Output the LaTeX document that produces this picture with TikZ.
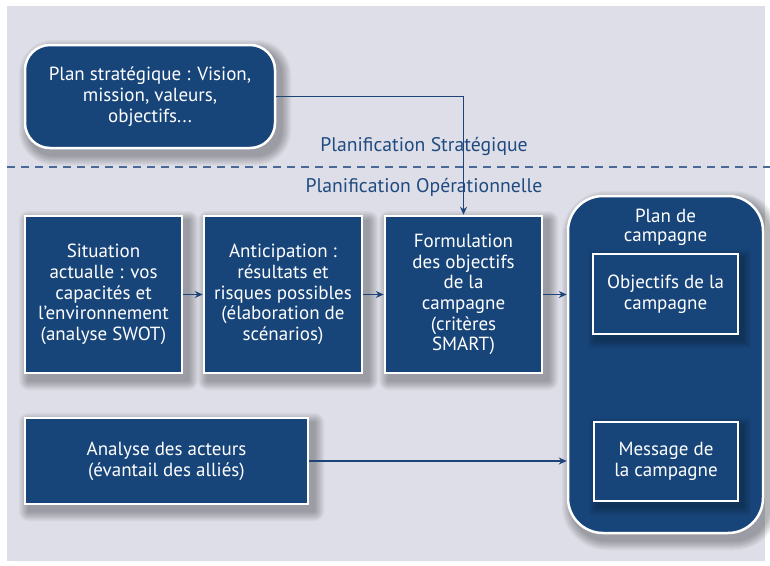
\documentclass[tikz,border=0pt]{standalone}
\usepackage{fontspec}
\setmainfont{PT Sans}
\usetikzlibrary{arrows.meta,calc}
\pgfdeclarelayer{back}
\pgfdeclarelayer{shade}
\pgfsetlayers{back,shade,main}
\definecolor{bgc}{RGB}{221,222,231}
\definecolor{boxblue}{RGB}{24,69,121}
\definecolor{linblue}{RGB}{28,68,120}
\definecolor{dashblue}{RGB}{75,105,150}
\definecolor{lblblue}{RGB}{32,74,128}
\tikzset{
  basebox/.style={fill=boxblue, draw=white, line width=2.5pt, text=white, align=center,
    font=\fontsize{19pt}{20.7pt}\selectfont, inner sep=0pt},
  sqbox/.style={basebox, rectangle},
  rndbox/.style={basebox, rounded corners=#1},
  innerbox/.style={basebox},
  arr/.style={draw=linblue, line width=1.4pt, -{Stealth[length=8pt,width=7pt]}},
  lbl/.style={text=lblblue, font=\fontsize{19.7pt}{21pt}\selectfont, inner sep=0pt},
  shd/.style={fill=black, opacity=0.03},
}
\begin{document}
\begin{tikzpicture}[x=1pt,y=-1pt]
\useasboundingbox (0,0) rectangle (770,565);
\begin{pgfonlayer}{back}
\fill[white] (0,0) rectangle (770,565);
\fill[bgc] (7,6) rectangle (765,561);
\end{pgfonlayer}

\node[rndbox=25pt, minimum width=250pt, minimum height=103pt] (plan) at (150,96.5)
  {Plan stratégique : Vision,\\mission, valeurs,\\objectifs...};

\node[lbl] (strat) at (424,146) {Planification Stratégique};
\coordinate (dl) at (7,167);
\coordinate (dr) at (770,167);
\draw[dashblue, line width=1.4pt, dash pattern=on 8pt off 6pt] (dl) -- (dr);
\node[lbl] (oper) at (424,187) {Planification Opérationnelle};

\node[sqbox, minimum width=157pt, minimum height=157pt] (sit) at (103.5,294.5)
  {Situation\\actualle : vos\\capacités et\\l’environnement\\(analyse SWOT)};
\node[sqbox, minimum width=158pt, minimum height=157pt] (ant) at (283,294.5)
  {Anticipation :\\résultats et\\risques possibles\\(élaboration de\\scénarios)};
\node[sqbox, minimum width=157pt, minimum height=157pt] (form) at (463.5,294.5)
  {Formulation\\des objectifs\\de la\\campagne\\(critères\\SMART)};

\node[rndbox=35pt, minimum width=195pt, minimum height=337pt] (camp) at (665.5,364.5) {};
\node[text=white, align=center, inner sep=0pt, font=\fontsize{19pt}{19pt}\selectfont] (camptitle) at (665.5,227) {Plan de\\campagne};
\node[innerbox, minimum width=145pt, minimum height=80pt] (obj) at (665.5,294)
  {Objectifs de la\\campagne};
\node[innerbox, minimum width=144pt, minimum height=79pt] (msg) at (666,461.5)
  {Message de\\la campagne};

\node[sqbox, minimum width=283pt, minimum height=86pt] (ana) at (166.5,461)
  {Analyse des acteurs\\(évantail des alliés)};

\begin{pgfonlayer}{shade}
\foreach \n/\r in {plan/25,sit/0,ant/0,form/0,ana/0,camp/35}{
  \foreach \k in {1,...,10}{
    \fill[shd, rounded corners={(\r+\k)*1pt}] ($(\n.north west)+(5-\k,6-\k)$) rectangle ($(\n.south east)+(5+\k,6+\k)$);
  }
}
\end{pgfonlayer}
\foreach \n in {obj,msg}{
  \foreach \k in {1,...,8}{
    \fill[fill=black, opacity=0.03] ($(\n.north west)+(4-\k,5-\k)$) rectangle ($(\n.south east)+(4+\k,5+\k)$);
  }
}
\node[innerbox, minimum width=145pt, minimum height=80pt] (obj2) at (obj) {Objectifs de la\\campagne};
\node[innerbox, minimum width=144pt, minimum height=79pt] (msg2) at (msg) {Message de\\la campagne};

\draw[arr] (plan.east) -| (form.north);
\draw[arr] (sit.east) -- (ant.west);
\draw[arr] (ant.east) -- (form.west);
\draw[arr] (form.east) -- (form.east -| camp.west);
\draw[arr] (ana.east) -- (ana.east -| camp.west);
\end{tikzpicture}
\end{document}
